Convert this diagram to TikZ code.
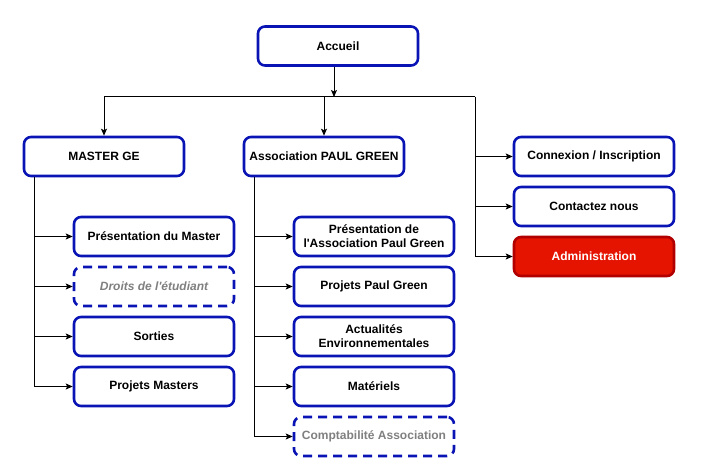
\documentclass[tikz,border=0pt]{standalone}
\usepackage{fontspec}
\setmainfont{Liberation Sans}
\usetikzlibrary{arrows.meta,calc}
\definecolor{boxblue}{HTML}{0A14B4}
\definecolor{admred}{HTML}{E51400}
\definecolor{admstroke}{HTML}{B20000}
\definecolor{greytext}{HTML}{808080}
\begin{document}
\begin{tikzpicture}[x=1pt,y=-1pt,
  box/.style={draw=boxblue, line width=2.6pt, rounded corners=7pt, fill=white,
    minimum width=160pt, minimum height=39pt, align=center,
    font=\fontsize{12}{14}\selectfont\bfseries, inner sep=2pt},
  dashbox/.style={box, dash pattern=on 9pt off 6pt, text=greytext},
  admbox/.style={box, draw=admstroke, fill=admred, text=white},
  conn/.style={draw=black, line width=1pt},
  arr/.style={conn, -{Stealth[length=7pt,width=6pt,inset=1.5pt]}}
]
\useasboundingbox (0,0) rectangle (702,476);

\node[box] (acc) at (338,46) {Accueil};
\node[box] (mg) at (104,156.5) {MASTER GE};
\node[box] (ap) at (324,156.5) {Association PAUL GREEN};

\node[box] (m1) at (154,236.5) {Présentation du Master};
\node[dashbox] (m2) at (154,286.5) {\itshape Droits de l\textquotesingle étudiant};
\node[box] (m3) at (154,336.5) {Sorties};
\node[box] (m4) at (154,386.5) {Projets Masters};

\node[box] (a1) at (374,236.5) {Présentation de\\l\textquotesingle Association Paul Green};
\node[box] (a2) at (374,286.5) {Projets Paul Green};
\node[box] (a3) at (374,336.5) {Actualités\\Environnementales};
\node[box] (a4) at (374,386.5) {Matériels};
\node[dashbox] (a5) at (374,436.5) {Comptabilité Association};

\node[box] (r1) at (594,156.5) {Connexion / Inscription};
\node[box] (r2) at (594,206.5) {Contactez nous};
\node[admbox] (r3) at (594,256.5) {Administration};

\coordinate (hub) at (334,97);
\coordinate (rc) at (475,97);

\draw[arr] (acc.south -| hub) -- (hub);
\draw[arr] (hub) -| (mg.north);
\draw[arr] (hub) -| (ap.north);
\draw[conn] (hub) -- (rc);

\foreach \t in {m1,m2,m3,m4}
  \draw[arr] ($(mg.south west)+(12,0)$) |- (\t.west);
\foreach \t in {a1,a2,a3,a4,a5}
  \draw[arr] ($(ap.south west)+(12,0)$) |- (\t.west);
\foreach \t in {r1,r2,r3}
  \draw[arr] (rc) |- (\t.west);
\end{tikzpicture}
\end{document}
